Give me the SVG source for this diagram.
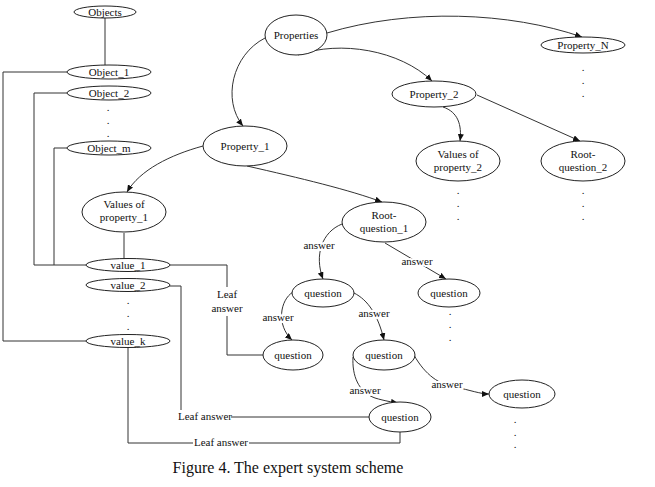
<svg xmlns="http://www.w3.org/2000/svg" width="655" height="487" viewBox="0 0 655 487">
<style>
text{font-family:"Liberation Serif","Times New Roman",serif;font-size:11px;fill:#111;text-anchor:middle}
.n ellipse{fill:#fff;stroke:#222;stroke-width:1}
.c path,.c polyline,.c line{fill:none;stroke:#333;stroke-width:1}
.a{marker-end:url(#ah)}
.lbl{paint-order:stroke;stroke:#fff;stroke-width:4px;stroke-linejoin:round}
.dot{font-size:11px}
.cap{font-size:16px}
</style>
<defs>
<marker id="ah" markerWidth="7" markerHeight="6" refX="7" refY="3" orient="auto" markerUnits="userSpaceOnUse">
<path d="M0,0 L7,3 L0,6 z" fill="#111"/>
</marker>
</defs>
<rect width="655" height="487" fill="#fff"/>
<g class="c" id="connectors">
<line x1="105" y1="18" x2="105" y2="65"/>
<polyline points="67,72 3,72 3,341 86,341"/>
<polyline points="67,93 34,93 34,265 86,265"/>
<polyline points="67,148 54,148 54,265"/>
<line x1="124" y1="233" x2="124" y2="259"/>
<polyline points="170,265 227,265 227,287"/>
<polyline points="227,316 227,355 263,355"/>
<polyline points="169,286 181,286 181,410"/>
<line x1="231" y1="417" x2="370" y2="417"/>
<polyline points="128,348 128,443 193,443"/>
<polyline points="249,443 400,443 400,432"/>
<path class="a" d="M265,38 C232,55 222,100 243,126"/>
<path class="a" d="M298,55 C340,40 400,50 432,81"/>
<path class="a" d="M327,33 C410,8 510,12 582,37"/>
<path class="a" d="M443,107 C458,112 462,125 460,141"/>
<path class="a" d="M477,95 L580,141"/>
<path class="a" d="M247,166 C300,178 350,190 382,202"/>
<path class="a" d="M203,146 C170,155 140,170 127,192"/>
<path class="a" d="M342,224 C322,232 314,255 323,279"/>
<path class="a" d="M385,243 L446,279"/>
<path class="a" d="M293,292 C280,300 276,325 292,340"/>
<path class="a" d="M354,293 C368,300 378,315 384,340"/>
<path class="a" d="M414,355 C425,375 440,385 455,387 C470,390 480,394 489,394"/>
<path class="a" d="M353,357 C352,375 358,392 375,398 C385,401 392,402 398,403"/>
</g>
<g id="edge-labels">
<text class="lbl" x="319" y="249">answer</text>
<text class="lbl" x="417" y="265">answer</text>
<text class="lbl" x="278" y="321">answer</text>
<text class="lbl" x="374" y="317">answer</text>
<text class="lbl" x="447" y="388">answer</text>
<text class="lbl" x="365" y="394">answer</text>
<text x="227" y="298">Leaf</text>
<text x="227" y="312">answer</text>
<text x="205" y="420">Leaf answer</text>
<text x="221" y="446">Leaf answer</text>
</g>
<g class="n">
<g id="objects"><ellipse cx="105" cy="12" rx="31" ry="6"/><text x="105" y="16">Objects</text></g>
<g id="object_1"><ellipse cx="109" cy="72" rx="42" ry="7"/><text x="109" y="76">Object_1</text></g>
<g id="object_2"><ellipse cx="109" cy="93" rx="42" ry="7"/><text x="109" y="97">Object_2</text></g>
<g id="object_m"><ellipse cx="109" cy="148" rx="42" ry="7"/><text x="109" y="152">Object_m</text></g>
<g id="values_p1"><ellipse cx="124" cy="212" rx="42" ry="20"/><text x="124" y="208">Values of</text><text x="124" y="221">property_1</text></g>
<g id="value_1"><ellipse cx="128" cy="265" rx="42" ry="6.5"/><text x="128" y="269">value_1</text></g>
<g id="value_2"><ellipse cx="128" cy="285" rx="42" ry="6.5"/><text x="128" y="289">value_2</text></g>
<g id="value_k"><ellipse cx="128" cy="341" rx="42" ry="6.5"/><text x="128" y="345">value_k</text></g>
<g id="properties"><ellipse cx="296" cy="35" rx="31" ry="20"/><text x="296" y="39">Properties</text></g>
<g id="property_1"><ellipse cx="245" cy="146" rx="42" ry="20"/><text x="245" y="150">Property_1</text></g>
<g id="property_2"><ellipse cx="434" cy="94" rx="42" ry="13"/><text x="434" y="98">Property_2</text></g>
<g id="property_n"><ellipse cx="583" cy="45" rx="42" ry="8"/><text x="583" y="49">Property_N</text></g>
<g id="values_p2"><ellipse cx="458" cy="161" rx="42" ry="20"/><text x="458" y="158">Values of</text><text x="458" y="171">property_2</text></g>
<g id="root_q2"><ellipse cx="583" cy="161" rx="42" ry="20"/><text x="583" y="158">Root-</text><text x="583" y="171">question_2</text></g>
<g id="root_q1"><ellipse cx="384" cy="222" rx="42" ry="20"/><text x="384" y="219">Root-</text><text x="384" y="232">question_1</text></g>
<g id="q_a"><ellipse cx="323" cy="293" rx="31" ry="14"/><text x="323" y="297">question</text></g>
<g id="q_b"><ellipse cx="449" cy="293" rx="31" ry="14"/><text x="449" y="297">question</text></g>
<g id="q_c"><ellipse cx="293" cy="355" rx="30" ry="15"/><text x="293" y="359">question</text></g>
<g id="q_d"><ellipse cx="384" cy="355" rx="31" ry="15"/><text x="384" y="359">question</text></g>
<g id="q_e"><ellipse cx="522" cy="394" rx="33" ry="14"/><text x="522" y="398">question</text></g>
<g id="q_f"><ellipse cx="400" cy="417" rx="31" ry="15"/><text x="400" y="421">question</text></g>
</g>
<g id="dots">
<text class="dot" x="108" y="111">.</text><text class="dot" x="108" y="124">.</text><text class="dot" x="108" y="137">.</text>
<text class="dot" x="128" y="304">.</text><text class="dot" x="128" y="317">.</text><text class="dot" x="128" y="330">.</text>
<text class="dot" x="583" y="71">.</text><text class="dot" x="583" y="84">.</text><text class="dot" x="583" y="97">.</text>
<text class="dot" x="458" y="194">.</text><text class="dot" x="458" y="207">.</text><text class="dot" x="458" y="220">.</text>
<text class="dot" x="583" y="194">.</text><text class="dot" x="583" y="207">.</text><text class="dot" x="583" y="220">.</text>
<text class="dot" x="450" y="315">.</text><text class="dot" x="450" y="328">.</text><text class="dot" x="450" y="341">.</text>
<text class="dot" x="515" y="423">.</text><text class="dot" x="515" y="436">.</text><text class="dot" x="515" y="448">.</text>
</g>
<text class="cap" x="288" y="473">Figure 4. The expert system scheme</text>
</svg>
